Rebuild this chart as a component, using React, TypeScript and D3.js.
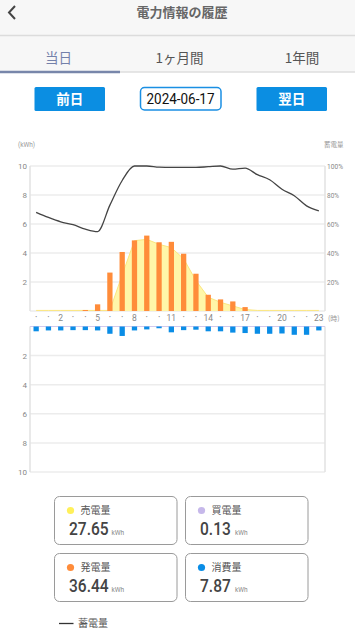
import React from "react";
import * as d3 from "d3";

const hours = d3.range(24);
const hourLabels = ["•","•","2","•","•","5","•","•","8","•","•","11","•","•","14","•","•","17","•","•","20","•","•","23"];
const genValues = [0,0,0,0,0.07,0.46,2.65,4.07,4.87,5.2,4.74,4.77,3.95,2.57,1.12,0.8,0.66,0.27,0,0,0,0,0,0];
const sellValues = [0.04,0.04,0.04,0.04,0.04,0.04,0.04,2.5,4.85,4.94,4.6,4.37,3.6,2.1,0.95,0.6,0.35,0.1,0.04,0.04,0.04,0.04,0.04,0.04];
const useValues = [0.33,0.27,0.27,0.25,0.25,0.27,0.5,0.65,0.27,0.2,0.12,0.4,0.25,0.22,0.33,0.33,0.42,0.45,0.5,0.5,0.48,0.57,0.57,0.27];
const batteryValues = [68,64.5,61.5,59.5,56.5,54.8,73,90,100,100,99.2,99,99,99,99.5,100,97.8,98.5,94,90.5,84,79.5,72.5,69];
const kwhTicks = [2,4,6,8,10];
const pctTicks = [20,40,60,80,100];
const tabs = ["当日","1ヶ月間","1年間"];
const summary = [
  { label: "売電量", value: "27.65", color: "#fff05a" },
  { label: "買電量", value: "0.13", color: "#c6b8ea" },
  { label: "発電量", value: "36.44", color: "#ff8c3a" },
  { label: "消費量", value: "7.87", color: "#0a8de6" },
];

const JP = "'Noto Sans CJK JP', 'Noto Sans', sans-serif";
const NUM = "Roboto, 'Noto Sans', sans-serif";

export default function App() {
  const W = 355, H = 637;
  const L = 30, R = 325;
  const x = d3.scaleBand<number>().domain(hours).range([L, R]).paddingInner(0.57).paddingOuter(0.285);
  const cx = (h: number) => (x(h) as number) + x.bandwidth() / 2;
  const yTop = d3.scaleLinear().domain([0, 10]).range([311, 166]);
  const yPct = d3.scaleLinear().domain([0, 100]).range([311, 166]);
  const yBot = d3.scaleLinear().domain([0, 10]).range([326.5, 472]);

  const area = d3.area<number>().x((_, i) => cx(i)).y0(yTop(0)).y1(d => yTop(d)).curve(d3.curveLinear);
  const sellLine = d3.line<number>().x((_, i) => cx(i)).y(d => yTop(d)).curve(d3.curveLinear);
  const batLine = d3.line<number>().x((_, i) => cx(i)).y(d => yPct(d)).curve(d3.curveMonotoneX);

  const tabCenters = [58.5, 179.5, 302];
  const boxes = [
    { x: 54, y: 496 }, { x: 185, y: 496 }, { x: 54, y: 553 }, { x: 185, y: 553 },
  ];

  return (
    <svg width={W} height={H} style={{ position: "absolute", left: 0, top: 0, background: "#fff" }}>
      {/* header */}
      <rect x={0} y={0} width={W} height={72} fill="#f7f7f7" />
      <polyline points="15,6 9,12.5 15,19" fill="none" stroke="#444" strokeWidth={2} />
      <text x={182} y={17} textAnchor="middle" fontFamily={JP} fontSize={13} fontWeight={700} fill="#666">電力情報の履歴</text>
      <line x1={0} x2={W} y1={35.5} y2={35.5} stroke="#dcdcdc" strokeWidth={1.5} />
      {tabs.map((t, i) => (
        <text key={t} x={tabCenters[i]} y={63} textAnchor="middle" fontFamily={JP} fontSize={13.5}
          fill={i === 0 ? "#7481aa" : "#555"}>{t}</text>
      ))}
      <line x1={0} x2={W} y1={72} y2={72} stroke="#dedede" strokeWidth={1.5} />
      <line x1={0} x2={120} y1={72} y2={72} stroke="#7886aa" strokeWidth={2.5} />

      {/* buttons */}
      <rect x={34.5} y={87} width={70.5} height={24} fill="#0b8ee2" rx={1.5} />
      <text x={69.7} y={104} textAnchor="middle" fontFamily={JP} fontSize={13.5} fontWeight={700} fill="#fff">前日</text>
      <rect x={140.5} y={87.5} width={80.5} height={22.5} fill="#fff" stroke="#1a8fe3" strokeWidth={1.5} rx={4} />
      <text x={146.5} y={104} fontFamily={NUM} fontSize={14} fill="#111" textLength={68} lengthAdjust="spacingAndGlyphs">2024-06-17</text>
      <rect x={256.5} y={87} width={70.5} height={24} fill="#0b8ee2" rx={1.5} />
      <text x={291.7} y={104} textAnchor="middle" fontFamily={JP} fontSize={13.5} fontWeight={700} fill="#fff">翌日</text>

      {/* top chart */}
      <text x={18} y={147} fontFamily={NUM} fontSize={6.5} fill="#999">(kWh)</text>
      <text x={324} y={147} fontFamily={JP} fontSize={6.5} fill="#999">蓄電量</text>
      {kwhTicks.map(t => (
        <g key={"gt" + t}>
          <line x1={L} x2={R} y1={yTop(t)} y2={yTop(t)} stroke="#ececec" strokeWidth={1.5} />
          <text x={27} y={yTop(t) + 3} textAnchor="end" fontFamily={NUM} fontSize={8} fill="#888">{t}</text>
        </g>
      ))}
      {pctTicks.map(t => (
        <text key={"p" + t} x={327} y={yPct(t) + 3} fontFamily={NUM} fontSize={7.5} fill="#888" textLength={t === 100 ? 16 : 12} lengthAdjust="spacingAndGlyphs">{t}%</text>
      ))}
      <line x1={L} x2={L} y1={166} y2={311} stroke="#e2e2e2" strokeWidth={1.5} />
      <line x1={R} x2={R} y1={166} y2={311} stroke="#e2e2e2" strokeWidth={1.5} />
      <line x1={L} x2={R} y1={311} y2={311} stroke="#e2e2e2" strokeWidth={1} />
      <path d={area(sellValues) ?? ""} fill="#fff6a3" opacity={0.95} />
      <path d={sellLine(sellValues) ?? ""} fill="none" stroke="#fbe680" strokeWidth={1} />
      {genValues.map((v, i) => v > 0 ? (
        <rect key={"g" + i} x={x(i)} y={yTop(v)} width={x.bandwidth()} height={yTop(0) - yTop(v)} fill="#ff8c3a" />
      ) : null)}
      <path d={batLine(batteryValues) ?? ""} fill="none" stroke="#444" strokeWidth={1.3} />
      {hours.map(h => (
        <text key={"xl" + h} x={cx(h)} y={hourLabels[h] === "•" ? 319 : 321} textAnchor="middle" fontFamily={NUM}
          fontSize={hourLabels[h] === "•" ? 5.5 : 8.5} fill="#888">{hourLabels[h]}</text>
      ))}
      <text x={328} y={321} fontFamily={JP} fontSize={7} fill="#999">(時)</text>

      {/* bottom chart */}
      {kwhTicks.map(t => (
        <g key={"gb" + t}>
          <line x1={L} x2={R} y1={yBot(t)} y2={yBot(t)} stroke="#ececec" strokeWidth={1.5} />
          <text x={27} y={yBot(t) + 3} textAnchor="end" fontFamily={NUM} fontSize={8} fill="#888">{t}</text>
        </g>
      ))}
      <line x1={L} x2={L} y1={326.5} y2={472} stroke="#e2e2e2" strokeWidth={1.5} />
      <line x1={R} x2={R} y1={326.5} y2={472} stroke="#e2e2e2" strokeWidth={1.5} />
      <line x1={L} x2={R} y1={326.5} y2={326.5} stroke="#d2caee" strokeWidth={1.2} />
      {useValues.map((v, i) => (
        <rect key={"u" + i} x={x(i)} y={yBot(0)} width={x.bandwidth()} height={yBot(v) - yBot(0)} fill="#0a8de6" />
      ))}

      {/* summary boxes */}
      {summary.map((s, i) => {
        const b = boxes[i];
        const vw = s.value.length === 5 ? 40 : 32.5;
        const vx = b.x + 15;
        return (
          <g key={s.label}>
            <rect x={b.x + 0.5} y={b.y + 0.5} width={122.5} height={48} rx={5} fill="#fff" stroke="#9a9a9a" strokeWidth={1} />
            <circle cx={b.x + 16.5} cy={b.y + 14.5} r={3.6} fill={s.color} />
            <text x={b.x + 26.5} y={b.y + 18} fontFamily={JP} fontSize={10} fill="#555">{s.label}</text>
            <g transform={`translate(${vx},${b.y + 39}) scale(0.84,1)`}>
              <text x={0} y={0} fontFamily={NUM} fontSize={18.5} fontWeight={500} fill="#444">{s.value}</text>
            </g>
            <text x={vx + vw + 2.5} y={b.y + 39} fontFamily={NUM} fontSize={6.5} fill="#888">kWh</text>
          </g>
        );
      })}
      <line x1={59} x2={73.5} y1={623.5} y2={623.5} stroke="#333" strokeWidth={1.3} />
      <text x={78} y={627} fontFamily={JP} fontSize={10} fill="#555">蓄電量</text>
    </svg>
  );
}
